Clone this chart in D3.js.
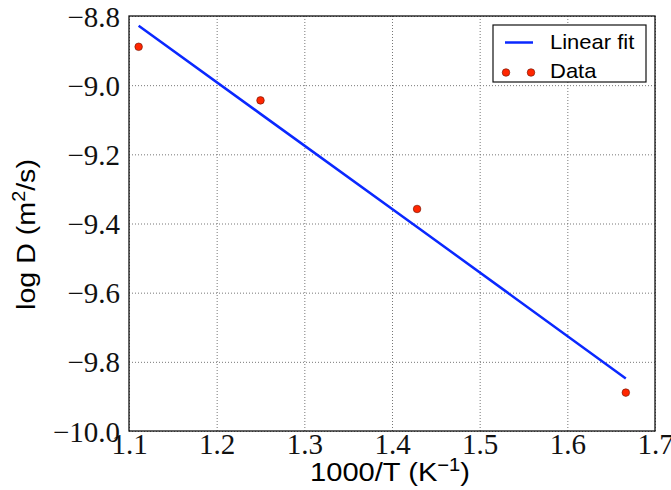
<!DOCTYPE html>
<html>
<head>
<meta charset="utf-8">
<script src="https://cdn.jsdelivr.net/npm/d3@7"></script>
<style>
  body { margin: 0; background: #fff; }
  svg { display: block; }
</style>
</head>
<body>
<script>
// data
var invT = [1.111, 1.250, 1.4286, 1.6667];        // 1000/T (K^-1)
var logD = [-8.889, -9.044, -9.358, -9.889];      // measured points
var fitLogD = [-8.828, -9.083, -9.410, -9.848];   // linear fit at the same x
var xTicks = [1.1, 1.2, 1.3, 1.4, 1.5, 1.6, 1.7];
var yTicks = [-8.8, -9.0, -9.2, -9.4, -9.6, -9.8, -10.0];
var legendLabels = ["Linear fit", "Data"];

var W = 671, H = 490;
// plot box (note: "top" is reserved on window, so use other names)
var pL = 129, pT = 16, pR = 655, pB = 431;

var svg = d3.select("body").append("svg")
  .attr("width", W)
  .attr("height", H);

var x = d3.scaleLinear().domain([1.1, 1.7]).range([pL, pR]);
var y = d3.scaleLinear().domain([-10.0, -8.8]).range([pB, pT]);

// dotted grid
svg.append("g")
  .attr("transform", "translate(0," + pB + ")")
  .call(d3.axisBottom(x).tickValues(xTicks).tickSize(-(pB - pT)).tickFormat(""))
  .call(function (g) {
    g.select(".domain").remove();
    g.selectAll("line").attr("stroke", "#777").attr("stroke-dasharray", "1,2");
  });
svg.append("g")
  .attr("transform", "translate(" + pL + ",0)")
  .call(d3.axisLeft(y).tickValues(yTicks).tickSize(-(pR - pL)).tickFormat(""))
  .call(function (g) {
    g.select(".domain").remove();
    g.selectAll("line").attr("stroke", "#777").attr("stroke-dasharray", "1,2");
  });

// fit line
var line = d3.line()
  .x(function (d, i) { return x(invT[i]); })
  .y(function (d) { return y(d); });
svg.append("path")
  .datum(fitLogD)
  .attr("d", line)
  .attr("fill", "none")
  .attr("stroke", "#0a28ff")
  .attr("stroke-width", 2.5);

// data points
svg.selectAll("circle.pt")
  .data(logD)
  .enter().append("circle")
  .attr("class", "pt")
  .attr("cx", function (d, i) { return x(invT[i]); })
  .attr("cy", function (d) { return y(d); })
  .attr("r", 3.8)
  .attr("fill", "#ff2600")
  .attr("stroke", "#6a1200")
  .attr("stroke-width", 0.6);

// frame
svg.append("rect")
  .attr("x", pL).attr("y", pT)
  .attr("width", pR - pL).attr("height", pB - pT)
  .attr("fill", "none")
  .attr("stroke", "#111")
  .attr("stroke-width", 1.3);

// tick labels
var fmt = d3.format(".1f");
var xAxis = svg.append("g")
  .attr("transform", "translate(0," + pB + ")")
  .call(d3.axisBottom(x).tickValues(xTicks).tickSize(0).tickPadding(0).tickFormat(fmt));
xAxis.select(".domain").remove();
xAxis.selectAll("text")
  .attr("y", 23)
  .attr("dy", null)
  .attr("fill", "#111")
  .style("font-family", "'Liberation Serif', serif")
  .style("font-size", "29px");

var yAxis = svg.append("g")
  .attr("transform", "translate(" + pL + ",0)")
  .call(d3.axisLeft(y).tickValues(yTicks).tickSize(0).tickPadding(9).tickFormat(fmt));
yAxis.select(".domain").remove();
yAxis.selectAll("text")
  .attr("dy", "10")
  .attr("fill", "#111")
  .style("font-family", "'Liberation Serif', serif")
  .style("font-size", "29px");

// axis titles
var sans = "'Liberation Sans', Arial, sans-serif";
var xt = svg.append("text")
  .attr("transform", "translate(" + ((pL + pR) / 2 - 2) + ",481) scale(1.12,1)")
  .attr("text-anchor", "middle")
  .style("font-family", sans)
  .style("font-size", "26px")
  .attr("fill", "#000");
xt.append("tspan").text("1000/T (K");
xt.append("tspan").attr("dy", -10).style("font-size", "18px").text("\u22121");
xt.append("tspan").attr("dy", 10).text(")");

var yt = svg.append("text")
  .attr("transform", "translate(35," + ((pT + pB) / 2 + 11) + ") rotate(-90) scale(1.1,1)")
  .attr("text-anchor", "middle")
  .style("font-family", sans)
  .style("font-size", "26px")
  .attr("fill", "#000");
yt.append("tspan").text("log D (m");
yt.append("tspan").attr("dy", -10).style("font-size", "18px").text("2");
yt.append("tspan").attr("dy", 10).text("/s)");

// legend
var lg = svg.append("g");
lg.append("rect")
  .attr("x", 493).attr("y", 25)
  .attr("width", 153).attr("height", 57)
  .attr("fill", "#fff")
  .attr("stroke", "#111")
  .attr("stroke-width", 1.2);
lg.append("line")
  .attr("x1", 505).attr("x2", 533)
  .attr("y1", 42.5).attr("y2", 42.5)
  .attr("stroke", "#0a28ff")
  .attr("stroke-width", 2.5);
lg.selectAll("circle")
  .data([506, 531])
  .enter().append("circle")
  .attr("cx", function (d) { return d; })
  .attr("cy", 72.5)
  .attr("r", 3.8)
  .attr("fill", "#ff2600")
  .attr("stroke", "#6a1200")
  .attr("stroke-width", 0.6);
lg.selectAll("text")
  .data(legendLabels)
  .enter().append("text")
  .attr("transform", function (d, i) { return "translate(550," + (48.5 + i * 29.5) + ") scale(1.1,1)"; })
  .style("font-family", sans)
  .style("font-size", "20px")
  .attr("fill", "#000")
  .text(function (d) { return d; });
</script>
</body>
</html>
